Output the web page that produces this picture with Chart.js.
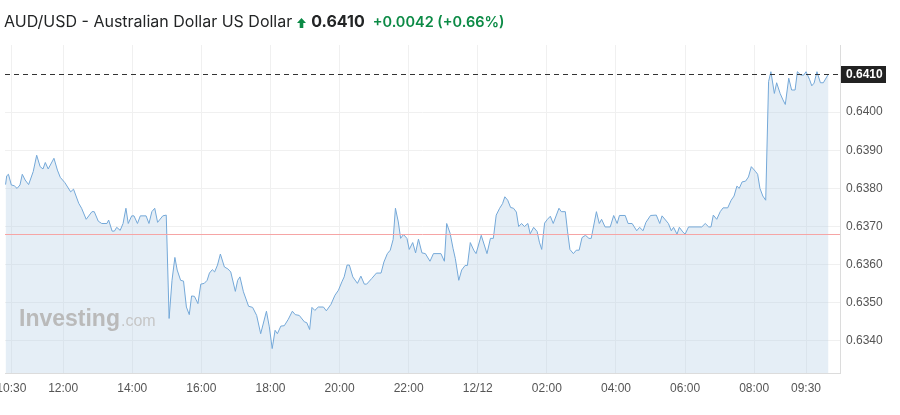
<!DOCTYPE html>
<html>
<head>
<meta charset="utf-8">
<script src="https://cdn.jsdelivr.net/npm/chart.js@4.4.1/dist/chart.umd.min.js"></script>
<style>
  html, body { margin: 0; padding: 0; background: #fff; }
  #wrap { position: relative; width: 900px; height: 415px; overflow: hidden; }
  #title {
    position: absolute; left: 4px; top: 11px; height: 20px; line-height: 20px;
    font-family: Inter, "Noto Sans", sans-serif; font-size: 16px; color: #232526;
    white-space: nowrap; z-index: 2;
  }
  #title .last { font-weight: 700; margin-left: 5px; }
  #title .chg { color: #0b8a45; font-weight: 600; font-size: 14.5px; margin-left: 8px; }
  #title svg { vertical-align: -1px; margin-left: 5px; }
  canvas { position: absolute; left: 0; top: 0; }
</style>
</head>
<body>
<div id="wrap">
  <div id="title">
    <span class="name">AUD/USD - Australian Dollar US Dollar</span><svg width="9" height="10" viewBox="0 0 9 10"><path d="M4.5 0 L9 5 L6.3 5 L6.3 10 L2.7 10 L2.7 5 L0 5 Z" fill="#0b8a45"/></svg><span class="last">0.6410</span><span class="chg">+0.0042 (+0.66%)</span>
  </div>
  <canvas id="chart" width="900" height="415"></canvas>
</div>
<script>
// ------------------------------
// DATA (time = minutes from 00:00 on 11 Dec, price = AUD/USD)
// ------------------------------
const times = [
  620, 622, 625, 630, 635, 640, 645, 649, 654, 660,
  668, 674, 680, 685, 689, 694, 704, 710, 715, 723,
  733, 738, 747, 752, 760, 770, 774, 781, 787, 796,
  799, 805, 809, 813, 819, 824, 829, 833, 839, 843,
  849, 854, 864, 869, 874, 879, 884, 893, 899, 904,
  909, 914, 918, 924, 929, 934, 939, 943, 948, 954,
  959, 965, 970, 974, 979, 983, 988, 993, 1000, 1006,
  1011, 1019, 1023, 1027, 1033, 1042, 1049, 1056, 1063, 1073,
  1078, 1083, 1088, 1092, 1098, 1104, 1111, 1118, 1123, 1130,
  1139, 1143, 1148, 1152, 1157, 1163, 1172, 1177, 1185, 1192,
  1198, 1204, 1208, 1213, 1217, 1223, 1231, 1237, 1243, 1247,
  1256, 1264, 1272, 1277, 1283, 1288, 1293, 1297, 1302, 1306,
  1311, 1317, 1321, 1327, 1332, 1337, 1343, 1349, 1357, 1363,
  1376, 1382, 1386, 1392, 1397, 1401, 1407, 1412, 1418, 1422,
  1427, 1433, 1437, 1446, 1456, 1462, 1467, 1472, 1478, 1483,
  1487, 1492, 1497, 1502, 1507, 1511, 1516, 1521, 1527, 1531,
  1537, 1543, 1547, 1551, 1556, 1561, 1566, 1571, 1581, 1585,
  1592, 1596, 1600, 1606, 1611, 1616, 1621, 1627, 1633, 1637,
  1646, 1651, 1655, 1661, 1670, 1676, 1682, 1686, 1696, 1701,
  1708, 1716, 1721, 1727, 1732, 1740, 1750, 1756, 1760, 1771,
  1776, 1780, 1786, 1790, 1796, 1800, 1806, 1829, 1835, 1841,
  1845, 1849, 1855, 1861, 1866, 1874, 1880, 1885, 1890, 1894,
  1899, 1905, 1910, 1915, 1922, 1926, 1930, 1935, 1940, 1945,
  1949, 1955, 1959, 1965, 1970, 1974, 1980, 1985, 1991, 1995,
  2001, 2006, 2010, 2016, 2020, 2024, 2029, 2035, 2040, 2049
];

const prices = [
  0.63810, 0.63833, 0.63837, 0.63809, 0.63807, 0.63800, 0.63809, 0.63837, 0.63822, 0.63810,
  0.63844, 0.63887, 0.63857, 0.63851, 0.63868, 0.63851, 0.63879, 0.63848, 0.63829, 0.63815,
  0.63791, 0.63798, 0.63761, 0.63748, 0.63719, 0.63739, 0.63739, 0.63714, 0.63708, 0.63708,
  0.63717, 0.63688, 0.63688, 0.63698, 0.63690, 0.63708, 0.63748, 0.63708, 0.63728, 0.63728,
  0.63708, 0.63728, 0.63728, 0.63708, 0.63739, 0.63748, 0.63711, 0.63728, 0.63730, 0.63459,
  0.63559, 0.63619, 0.63586, 0.63559, 0.63557, 0.63489, 0.63469, 0.63518, 0.63517, 0.63498,
  0.63549, 0.63551, 0.63559, 0.63578, 0.63587, 0.63581, 0.63599, 0.63628, 0.63594, 0.63589,
  0.63581, 0.63530, 0.63559, 0.63568, 0.63529, 0.63491, 0.63488, 0.63467, 0.63419, 0.63478,
  0.63437, 0.63380, 0.63428, 0.63419, 0.63439, 0.63440, 0.63457, 0.63478, 0.63469, 0.63467,
  0.63450, 0.63448, 0.63430, 0.63488, 0.63480, 0.63489, 0.63489, 0.63479, 0.63496, 0.63520,
  0.63533, 0.63555, 0.63568, 0.63599, 0.63599, 0.63568, 0.63551, 0.63570, 0.63549, 0.63549,
  0.63564, 0.63578, 0.63578, 0.63607, 0.63629, 0.63638, 0.63666, 0.63748, 0.63712, 0.63669,
  0.63679, 0.63669, 0.63640, 0.63658, 0.63631, 0.63667, 0.63631, 0.63629, 0.63609, 0.63629,
  0.63629, 0.63609, 0.63708, 0.63682, 0.63643, 0.63616, 0.63559, 0.63586, 0.63598, 0.63598,
  0.63658, 0.63638, 0.63629, 0.63677, 0.63629, 0.63669, 0.63669, 0.63730, 0.63748, 0.63760,
  0.63778, 0.63769, 0.63750, 0.63748, 0.63738, 0.63700, 0.63708, 0.63700, 0.63708, 0.63681,
  0.63698, 0.63687, 0.63659, 0.63640, 0.63709, 0.63719, 0.63727, 0.63708, 0.63748, 0.63739,
  0.63739, 0.63686, 0.63640, 0.63629, 0.63638, 0.63638, 0.63671, 0.63677, 0.63669, 0.63669,
  0.63739, 0.63708, 0.63719, 0.63699, 0.63699, 0.63729, 0.63708, 0.63729, 0.63729, 0.63708,
  0.63708, 0.63689, 0.63698, 0.63689, 0.63711, 0.63729, 0.63730, 0.63708, 0.63728, 0.63708,
  0.63689, 0.63698, 0.63680, 0.63698, 0.63686, 0.63680, 0.63699, 0.63699, 0.63708, 0.63699,
  0.63699, 0.63730, 0.63719, 0.63739, 0.63749, 0.63749, 0.63769, 0.63780, 0.63806, 0.63800,
  0.63817, 0.63819, 0.63830, 0.63857, 0.63845, 0.63837, 0.63800, 0.63780, 0.63769, 0.64080,
  0.64106, 0.64049, 0.64077, 0.64049, 0.64032, 0.64020, 0.64089, 0.64058, 0.64058, 0.64106,
  0.64097, 0.64097, 0.64106, 0.64086, 0.64069, 0.64076, 0.64106, 0.64077, 0.64077, 0.64100
];

const xTickValues = [630, 720, 840, 960, 1080, 1200, 1320, 1440, 1560, 1680, 1800, 1920, 2010];
const xTickLabels = ["10:30", "12:00", "14:00", "16:00", "18:00", "20:00", "22:00",
                     "12/12", "02:00", "04:00", "06:00", "08:00", "09:30"];
const yTickValues = [0.6340, 0.6350, 0.6360, 0.6370, 0.6380, 0.6390, 0.6400];

const lastPrice = 0.6410;
const prevClose = 0.6368;

// ------------------------------
// OVERLAYS: prev close, last price, watermark
// ------------------------------
const overlays = {
  id: "overlays",
  afterDatasetsDraw(chart) {
    const { ctx, chartArea: a, scales: { y } } = chart;
    ctx.save();

    // watermark
    ctx.textBaseline = "alphabetic";
    ctx.fillStyle = "#bababa";
    ctx.font = "bold 23px Arial, 'Liberation Sans', sans-serif";
    ctx.fillText("Investing", 19, 326);
    const w = ctx.measureText("Investing").width;
    ctx.fillStyle = "#c6c6c6";
    ctx.font = "16px Arial, 'Liberation Sans', sans-serif";
    ctx.fillText(".com", 19 + w + 1, 326);

    // previous close line
    const yc = Math.round(y.getPixelForValue(prevClose)) + 0.5;
    ctx.strokeStyle = "#f6a5a5";
    ctx.lineWidth = 1;
    ctx.beginPath();
    ctx.moveTo(a.left, yc);
    ctx.lineTo(a.right, yc);
    ctx.stroke();

    // last price dashed line
    const yl = Math.round(y.getPixelForValue(lastPrice)) + 0.5;
    ctx.strokeStyle = "#333";
    ctx.setLineDash([5, 4]);
    ctx.beginPath();
    ctx.moveTo(a.left, yl);
    ctx.lineTo(a.right, yl);
    ctx.stroke();
    ctx.restore();
  },
  afterDraw(chart) {
    const { ctx, chartArea: a, scales: { y } } = chart;
    const yl = Math.round(y.getPixelForValue(lastPrice));
    ctx.save();
    ctx.fillStyle = "#222";
    ctx.fillRect(a.right + 1, yl - 8, 45, 17);
    ctx.fillStyle = "#fff";
    ctx.font = "bold 12px Arial, 'Liberation Sans', sans-serif";
    ctx.textBaseline = "middle";
    ctx.fillText(lastPrice.toFixed(4), a.right + 6, yl + 1);
    ctx.restore();
  }
};

// ------------------------------
// CHART
// ------------------------------
const points = times.map((t, i) => ({ x: t, y: prices[i] }));

new Chart(document.getElementById("chart"), {
  type: "line",
  data: {
    datasets: [{
      data: points,
      borderColor: "#74a8d8",
      borderWidth: 1,
      backgroundColor: "rgba(180, 205, 228, 0.35)",
      fill: "start",
      pointRadius: 0,
      tension: 0
    }]
  },
  options: {
    responsive: false,
    animation: false,
    events: [],
    layout: { padding: { top: 45, left: 5, right: 0, bottom: 0 } },
    plugins: {
      legend: { display: false },
      tooltip: { enabled: false }
    },
    scales: {
      x: {
        type: "linear",
        min: 619,
        max: 2069,
        afterBuildTicks: (s) => { s.ticks = xTickValues.map(v => ({ value: v })); },
        afterFit: (s) => { s.height = 42; s.paddingLeft = 0; s.paddingRight = 0; },
        ticks: {
          autoSkip: false,
          maxRotation: 0,
          padding: 8,
          color: "#555",
          font: { family: "Arial, 'Liberation Sans', sans-serif", size: 12 },
          callback: (v, i) => xTickLabels[i]
        },
        grid: { color: "#f0f0f0", drawTicks: false },
        border: { color: "#dcdcdc" }
      },
      y: {
        position: "right",
        min: 0.63316,
        max: 0.64176,
        afterBuildTicks: (s) => { s.ticks = yTickValues.map(v => ({ value: v })); },
        afterFit: (s) => { s.width = 60; },
        ticks: {
          padding: 6,
          color: "#555",
          font: { family: "Arial, 'Liberation Sans', sans-serif", size: 12 },
          callback: (v) => Number(v).toFixed(4)
        },
        grid: { color: "#f0f0f0", drawTicks: false },
        border: { color: "#dcdcdc" }
      }
    }
  },
  plugins: [overlays]
});
</script>
</body>
</html>
